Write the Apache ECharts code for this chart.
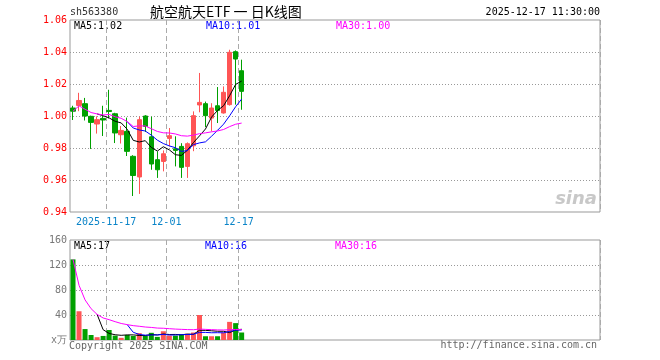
<!DOCTYPE html>
<html><head><meta charset="utf-8">
<script src="https://cdn.jsdelivr.net/npm/echarts@6/dist/echarts.min.js"></script>
<style>html,body{margin:0;padding:0;background:#fff}#c{width:660px;height:360px}</style>
</head><body><div id="c"></div>
<script>
// ---- data ----
const dates = ['2025-11-07','2025-11-10','2025-11-11','2025-11-12','2025-11-13','2025-11-14',
  '2025-11-17','2025-11-18','2025-11-19','2025-11-20','2025-11-21',
  '2025-11-24','2025-11-25','2025-11-26','2025-11-27','2025-11-28',
  '2025-12-01','2025-12-02','2025-12-03','2025-12-04','2025-12-05',
  '2025-12-08','2025-12-09','2025-12-10','2025-12-11','2025-12-12',
  '2025-12-15','2025-12-16','2025-12-17'];
const opens  = [1.005,1.0066,1.0077,0.9998,0.995,0.9985,1.0035,1.0014,0.9883,0.9904,0.9748,0.9619,1.000,0.987,0.9727,0.9716,0.986,0.9795,0.981,0.9685,0.9814,1.0069,1.0077,0.9987,1.0064,1.0019,1.0071,1.0402,1.0283];
const closes = [1.003,1.0097,1.000,0.996,0.9977,0.9975,1.0028,0.9894,0.991,0.9779,0.9628,0.9977,0.9935,0.970,0.9664,0.9764,0.9877,0.9785,0.9679,0.9827,1.0002,1.0085,1.0002,1.005,1.0035,1.0148,1.0398,1.0356,1.0154];
const highs  = [1.0064,1.0145,1.0113,1.0002,0.9998,1.0064,1.0164,1.002,0.9937,0.999,0.9755,0.9996,1.0005,0.9996,0.9779,0.9785,0.9925,0.9873,0.983,0.9835,1.0029,1.0269,1.009,1.008,1.0181,1.0185,1.0414,1.041,1.0352];
const lows   = [0.9975,1.003,0.9972,0.9794,0.989,0.9875,0.9985,0.9831,0.9828,0.975,0.950,0.9513,0.990,0.9664,0.9613,0.9654,0.981,0.9685,0.9613,0.9613,0.978,1.0023,0.9931,0.9904,0.9956,1.0015,1.0065,1.0071,1.0039];
const volumes = [129,46,17.5,8,4.5,6.5,16,7,3.5,8,6.5,11,6.5,11.5,5,14,7,7,9,10,12,40,6,6,6,12,29,27,12];
const totalSlots = 88;
const tickDates  = ['2025-11-17','2025-12-01','2025-12-17'];
const tickLabels = ['2025-11-17','12-01','12-17'];
const priceLegend = ['MA5:1.02','MA10:1.01','MA30:1.00'];
const volLegend   = ['MA5:17','MA10:16','MA30:16'];
const maColors = ['#000000','#0000ff','#ff00ff'];
const UP = '#ff5555', DOWN = '#00a000';
const MONO = '"DejaVu Sans Mono", "Liberation Mono", monospace';

// ---- derived ----
const cats = dates.slice();
for (let k = dates.length; k < totalSlots; k++) cats.push('pad' + k);
function ma(arr, n, cumulative) {
  return arr.map((v, i) => {
    if (i < n - 1 && !cumulative) return '-';
    const s = Math.max(0, i - n + 1);
    let sum = 0; for (let j = s; j <= i; j++) sum += arr[j];
    return +(sum / (i - s + 1)).toFixed(5);
  });
}
const kData = dates.map((d, i) => [opens[i], closes[i], lows[i], highs[i]]);
const volData = volumes.map((v, i) => ({ value: v, itemStyle: { color: closes[i] >= opens[i] ? UP : DOWN } }));
const isTick = (idx, val) => tickDates.indexOf(val) >= 0;

const chart = echarts.init(document.getElementById('c'), null, { renderer: 'canvas' });
const lineSeries = (name, data, color, xi, yi) => ({
  name, type: 'line', data, xAxisIndex: xi, yAxisIndex: yi, showSymbol: false, symbol: 'none',
  lineStyle: { width: 1, color }, silent: true, connectNulls: false, z: 3
});
chart.setOption({
  animation: false,
  backgroundColor: '#fff',
  grid: [
    { left: 70, width: 530, top: 20, height: 192, show: true, borderColor: '#999', borderWidth: 1 },
    { left: 70, width: 530, top: 240, height: 100, show: true, borderColor: '#999', borderWidth: 1 }
  ],
  xAxis: [
    { type: 'category', gridIndex: 0, data: cats, boundaryGap: true,
      axisLine: { show: false }, axisTick: { show: false },
      axisLabel: { interval: isTick, color: '#0a84c8', fontFamily: MONO, fontSize: 10, margin: 5,
        padding: [0, 6, 0, 0],
        formatter: v => { const k = tickDates.indexOf(v); return k >= 0 ? tickLabels[k] : ''; } },
      splitLine: { show: true, interval: isTick, lineStyle: { color: '#aaa', type: [5, 3], width: 1 } } },
    { type: 'category', gridIndex: 1, data: cats, boundaryGap: true,
      axisLine: { show: false }, axisTick: { show: false }, axisLabel: { show: false },
      splitLine: { show: true, interval: isTick, lineStyle: { color: '#aaa', type: [5, 3], width: 1 } } }
  ],
  yAxis: [
    { type: 'value', gridIndex: 0, min: 0.94, max: 1.06, interval: 0.02, scale: true,
      axisLine: { show: false }, axisTick: { show: false },
      axisLabel: { color: '#ff0000', fontFamily: MONO, fontSize: 10, margin: 3, formatter: v => v.toFixed(2) },
      splitLine: { show: true, showMinLine: false, showMaxLine: false, lineStyle: { color: '#999', type: [1, 2] } } },
    { type: 'value', gridIndex: 1, min: 0, max: 160, interval: 40,
      axisLine: { show: false }, axisTick: { show: false },
      axisLabel: { color: '#777', fontFamily: MONO, fontSize: 10, margin: 3, formatter: v => v === 0 ? 'x万' : String(v) },
      splitLine: { show: true, showMinLine: false, showMaxLine: false, lineStyle: { color: '#999', type: [1, 2] } } }
  ],
  series: [
    { type: 'candlestick', xAxisIndex: 0, yAxisIndex: 0, data: kData, barWidth: 5,
      itemStyle: { color: UP, color0: DOWN, borderColor: UP, borderColor0: DOWN, borderWidth: 1 } },
    lineSeries('MA5', ma(closes, 5), maColors[0], 0, 0),
    lineSeries('MA10', ma(closes, 10), maColors[1], 0, 0),
    lineSeries('MA30', ma(closes, 30, true), maColors[2], 0, 0),
    { type: 'bar', xAxisIndex: 1, yAxisIndex: 1, data: volData, barWidth: 5 },
    lineSeries('VMA5', ma(volumes, 5), maColors[0], 1, 1),
    lineSeries('VMA10', ma(volumes, 10), maColors[1], 1, 1),
    lineSeries('VMA30', ma(volumes, 30, true), maColors[2], 1, 1)
  ],
  graphic: [
    { type: 'text', left: 70, top: 7, style: { text: 'sh563380', font: '10px ' + MONO, fill: '#333' } },
    { type: 'text', left: 150, top: 5, style: { text: '航空航天ETF 一 日K线图', font: '14px "Noto Sans CJK SC"', fill: '#000' } },
    { type: 'text', right: 60, top: 7, style: { text: '2025-12-17 11:30:00', font: '10px ' + MONO, fill: '#000' } },
    { type: 'text', left: 74, top: 21, style: { text: priceLegend[0], font: '10px ' + MONO, fill: maColors[0] } },
    { type: 'text', left: 206, top: 21, style: { text: priceLegend[1], font: '10px ' + MONO, fill: maColors[1] } },
    { type: 'text', left: 336, top: 21, style: { text: priceLegend[2], font: '10px ' + MONO, fill: maColors[2] } },
    { type: 'text', left: 74, top: 241, style: { text: volLegend[0], font: '10px ' + MONO, fill: maColors[0] } },
    { type: 'text', left: 205, top: 241, style: { text: volLegend[1], font: '10px ' + MONO, fill: maColors[1] } },
    { type: 'text', left: 335, top: 241, style: { text: volLegend[2], font: '10px ' + MONO, fill: maColors[2] } },
    { type: 'text', right: 63, top: 190, style: { text: 'sina', font: 'italic bold 18px "DejaVu Sans"', fill: '#c8c8c8' } },
    { type: 'text', left: 69, top: 341, style: { text: 'Copyright 2025 SINA.COM', font: '10px ' + MONO, fill: '#666' } },
    { type: 'text', right: 63, top: 340, style: { text: 'http://finance.sina.com.cn', font: '10px ' + MONO, fill: '#666' } }
  ]
});
</script></body></html>
